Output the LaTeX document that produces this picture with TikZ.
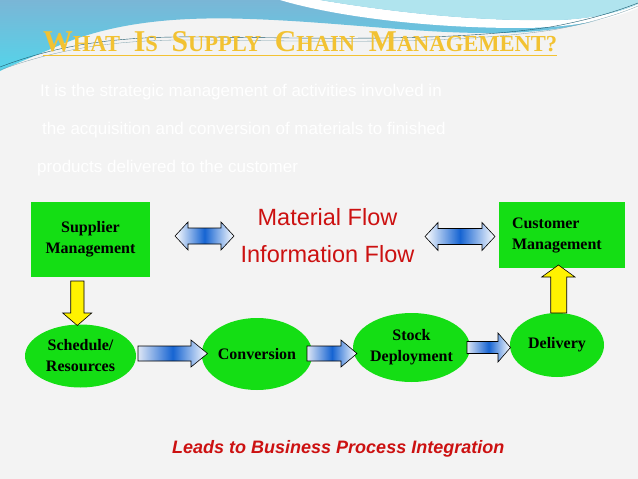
\documentclass[tikz,border=0pt]{standalone}
\usepackage{fontspec}
\newfontfamily\arialf{Liberation Sans}
\newfontfamily\timesf{Liberation Serif}
\usetikzlibrary{shapes.geometric}
\definecolor{bgc}{RGB}{243,243,243}
\definecolor{boxgreen}{RGB}{20,222,20}
\definecolor{flowred}{RGB}{204,17,17}
\definecolor{titlegold}{RGB}{242,194,50}
\definecolor{arrowblue}{RGB}{22,100,210}
\definecolor{arrowlight}{RGB}{222,230,245}
\definecolor{wavetop}{RGB}{122,182,214}
\definecolor{wavebot}{RGB}{84,212,234}
\definecolor{wavecyan}{RGB}{176,228,238}
\definecolor{waveline}{RGB}{30,90,110}
\tikzset{
  greenbox/.style={rectangle, fill=boxgreen, draw=none, inner sep=0pt,
    font=\timesf\bfseries\fontsize{16}{21}\selectfont},
  greenell/.style={ellipse, fill=boxgreen, draw=none, inner sep=0pt, align=center,
    font=\timesf\bfseries\fontsize{16}{21}\selectfont},
  blockarrow/.style={draw=black, line width=0.6pt, left color=arrowlight,
    right color=white, middle color=arrowblue},
  dblarrow/.style={draw=black, line width=0.6pt, left color=white,
    right color=white, middle color=arrowblue},
  yellowarrow/.style={fill=yellow, draw=black, line width=0.6pt},
  flowtext/.style={text=flowred, inner sep=0pt, font=\arialf\fontsize{23.5}{28}\selectfont},
  whitetext/.style={text=white, inner sep=0pt, font=\arialf\fontsize{17}{20}\selectfont},
  titletext/.style={text=titlegold, inner sep=0pt, font=\timesf\bfseries}
}
\newcommand\fsc[2]{{\fontsize{27}{30}\selectfont #1}{\fontsize{20.5}{25}\selectfont #2}}
\newcommand\tsp{\hspace{12.5pt}}
\newcommand\titlestring{\fsc{W}{HAT}\tsp\fsc{I}{S}\tsp\fsc{S}{UPPLY}\tsp\fsc{C}{HAIN}\tsp\fsc{M}{ANAGEMENT?}}
\newcommand\hblock[7]{% style, x0, x1, yc, shaft half, head half, head len
  \draw[#1] (#2,#4-#5) -- (#3-#7,#4-#5) -- (#3-#7,#4-#6) -- (#3,#4)
    -- (#3-#7,#4+#6) -- (#3-#7,#4+#5) -- (#2,#4+#5) -- cycle;}
\newcommand\dblock[6]{% x0, x1, yc, shaft half, head half, head len
  \draw[dblarrow] (#1,#3) -- (#1+#6,#3-#5) -- (#1+#6,#3-#4) -- (#2-#6,#3-#4)
    -- (#2-#6,#3-#5) -- (#2,#3) -- (#2-#6,#3+#5) -- (#2-#6,#3+#4)
    -- (#1+#6,#3+#4) -- (#1+#6,#3+#5) -- cycle;}
\begin{document}
\begin{tikzpicture}[x=1pt,y=-1pt]
\useasboundingbox (0,0) rectangle (638,479);
\fill[bgc] (0,0) rectangle (638,479);
% top wave
\shade[top color=wavetop, bottom color=wavebot]
  (0,0) -- (638,0) -- (638,6) .. controls (600,22) and (560,32) .. (500,33)
  .. controls (420,34) and (340,22) .. (250,19)
  .. controls (170,16) and (110,24) .. (60,45)
  .. controls (30,58) and (10,66) .. (0,71) -- cycle;
\fill[white] (280,0) -- (320,0) .. controls (380,10) and (470,22) .. (560,20)
  .. controls (600,18) and (625,10) .. (638,4) -- (638,8)
  .. controls (610,20) and (570,28) .. (520,28)
  .. controls (420,28) and (330,15) .. (280,0) -- cycle;
\fill[wavecyan] (320,0) -- (638,0) -- (638,4) .. controls (625,10) and (600,18) .. (560,20)
  .. controls (470,22) and (380,10) .. (320,0) -- cycle;
\draw[waveline, line width=0.4pt] (0,67) .. controls (60,44) and (120,36) .. (200,37)
  .. controls (320,38) and (450,42) .. (550,27) .. controls (590,20) and (620,10) .. (638,3);
\draw[waveline!60, line width=0.3pt] (0,70) .. controls (60,48) and (120,39) .. (200,40)
  .. controls (320,41) and (450,45) .. (552,30) .. controls (592,23) and (622,13) .. (638,6);
% title
\node[titletext, anchor=base west] (title) at (43,52)
  {\resizebox{514pt}{20pt}{\titlestring}};
\draw[titlegold, line width=1.5pt] ([yshift=-3.5pt]title.base west) -- ([yshift=-3.5pt]title.base east);
% white definition text
\node[whitetext, anchor=base west] (def1) at (40,96) {It is the strategic management of activities involved in};
\node[whitetext, anchor=base west] (def2) at (42,134) {the acquisition and conversion of materials to finished};
\node[whitetext, anchor=base west] (def3) at (37,172) {products delivered to the customer};
% boxes
\node[greenbox, minimum width=119, minimum height=75, align=center] (supplier) at (90.5,239.5)
  {Supplier\\Management};
\node[greenbox, minimum width=126, minimum height=66, text width=100pt, align=left] (customer) at (562,235)
  {Customer\\Management};
% flow texts
\node[flowtext, anchor=base] (mflow) at (327.5,225) {Material Flow};
\node[flowtext, anchor=base] (iflow) at (327.5,262) {Information Flow};
% ellipses
\node[greenell, minimum width=111, minimum height=63] (sched) at (80.5,356) {Schedule/\\Resources};
\node[greenell, minimum width=100, minimum height=72] (conv) at (257,354) {Conversion};
\node[greenell, minimum width=111, minimum height=69] (stock) at (411.5,347.5) {Stock\\Deployment};
\node[greenell, minimum width=94, minimum height=64] (deliv) at (557,345) {Delivery};
% double arrows
\dblock{175}{234}{236}{8}{14}{13}
\dblock{425}{495}{236.5}{8}{14}{13}
% process arrows
\hblock{blockarrow}{138}{207.5}{353.5}{7.5}{13.5}{16.5}
\hblock{blockarrow}{307}{357}{353.5}{7.5}{13.5}{16}
\hblock{blockarrow}{467}{510.5}{347.5}{6}{14.5}{12.5}
% yellow arrows
\draw[yellowarrow] (70.7,281) -- (84,281) -- (84,313) -- (91.7,313) -- (77.3,325.5)
  -- (62.7,313) -- (70.7,313) -- cycle;
\draw[yellowarrow] (550.7,313) -- (566.7,313) -- (566.7,277) -- (575,277) -- (558.4,265)
  -- (541.7,277) -- (550.7,277) -- cycle;
% bottom line
\node[text=flowred, inner sep=0pt, anchor=base west, font=\arialf\bfseries\itshape\fontsize{18}{22}\selectfont]
  (leads) at (172,453) {Leads to Business Process Integration};
\end{tikzpicture}
\end{document}
